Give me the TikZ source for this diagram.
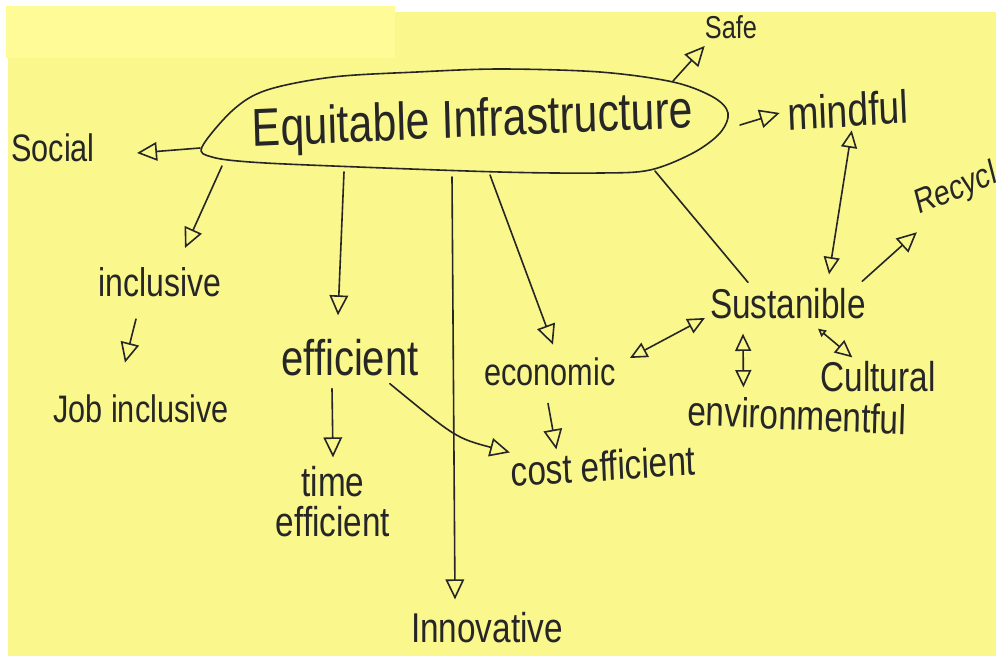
\documentclass[tikz,border=0pt]{standalone}
\usepackage{fontspec}
\setmainfont{Liberation Sans}
\usetikzlibrary{arrows.meta}
\definecolor{note}{RGB}{250,247,140}
\definecolor{notepatch}{RGB}{255,251,150}
\definecolor{ink}{RGB}{38,38,38}

\begin{document}
\begin{tikzpicture}[x=0.75pt,y=-0.75pt,
    lbl/.style={text=ink, inner sep=0pt, yscale=1.25, font=\fontsize{#1}{24}\selectfont},
    lbl/.default=25,
    con/.style={draw=ink, line width=1.2pt, line cap=round, line join=round},
    arr/.style={con, -{Triangle[open, length=15pt, width=14pt]}},
    biarr/.style={con, {Triangle[open, length=13pt, width=12pt]}-{Triangle[open, length=13pt, width=12pt]}}]
  \useasboundingbox (0,0) rectangle (996,658);
  \fill[white] (0,0) rectangle (996,658);
  \fill[note] (8,12) rectangle (996,656);
  \fill[notepatch] (6,6) rectangle (395,58);

  % the big idea
  \draw[con] plot[smooth cycle, tension=0.55] coordinates {(202,147) (233,110) (267,90) (333,77)
    (417,72) (500,69) (600,72) (673,82) (713,97) (728,113) (720,133) (693,153) (650,170)
    (600,173) (500,172) (333,166) (250,162) (212,157)};
  \node[lbl=32, anchor=base, rotate=2] (eq) at (473,137) {Equitable Infrastructure};
  \coordinate (eW) at (200,148);
  \coordinate (eSW) at (222,166);
  \coordinate (eS1) at (344,172);
  \coordinate (eS2) at (452,177);
  \coordinate (eS3) at (490,175);
  \coordinate (eSE) at (655,171);
  \coordinate (eNE) at (673,81);
  \coordinate (eE) at (740,125);

  % branches
  \node[lbl=23] (social) at (53,148) {Social};
  \node[lbl=19] (safe) at (731,27) {Safe};
  \node[lbl=28, rotate=3] (mindful) at (848,110) {mindful};
  \node[lbl=21, anchor=base west, rotate=18] (recycle) at (918,215) {Recycle};
  \node[lbl=24] (inclusive) at (160,282) {inclusive};
  \node[lbl=23] (jobinc) at (141,409) {Job inclusive};
  \node[lbl=30] (efficient) at (350,358) {efficient};
  \node[lbl, align=center] (timeeff) at (333,502) {time\\efficient};
  \node[lbl] (innovative) at (487,628) {Innovative};
  \node[lbl=23] (economic) at (550,372) {economic};
  \node[lbl, rotate=3] (costeff) at (603,466) {cost efficient};
  \node[lbl] (sust) at (788,304) {Sustanible};
  \node[lbl, rotate=-2] (env) at (797,415) {environmentful};
  \node[lbl] (cultural) at (878,377) {Cultural};

  \draw[arr] (eW) -- ([shift={(42,5)}]social.east);
  \draw[arr] (eSW) -- ([shift={(25,-19)}]inclusive.north);
  \draw[arr] ([shift={(-24,22)}]inclusive.south) -- ([shift={(-16,-32)}]jobinc.north);
  \draw[arr] (eS1) -- ([shift={(-12,-24)}]efficient.north);
  \draw[arr] ([shift={(-18,12)}]efficient.south) -- ([shift={(0,-9)}]timeeff.north);
  \draw[arr] ([shift={(-29,7)}]efficient.south east) .. controls (456,438) .. ([shift={(0,-4)}]costeff.north west);
  \draw[arr] (eS2) -- ([shift={(-32,-13)}]innovative.north);
  \draw[arr] (eS3) -- ([shift={(3,-13)}]economic.north);
  \draw[arr] ([shift={(-2,17)}]economic.south) -- ([shift={(-46,-1)}]costeff.north);
  \draw[con] (eSE) -- ([shift={(-40,-6)}]sust.north);
  \draw[arr] (eNE) -- ([shift={(0,7)}]safe.south west);
  \draw[arr] (eE) -- ([shift={(-8,-1)}]mindful.west);
  \draw[biarr] ([shift={(3,3)}]mindful.south) -- ([shift={(41,-14)}]sust.north);
  \draw[arr] ([shift={(-4,-7)}]sust.north east) -- ([shift={(-3,10)}]recycle.south west);
  \draw[biarr] ([shift={(14,-14)}]economic.east) -- ([shift={(-5,14)}]sust.west);
  \draw[biarr] ([shift={(-45,14)}]sust.south) -- ([shift={(-54,-12)}]env.north);
  \draw[con, {Triangle[open, length=6pt, width=6pt]}-{Triangle[open, length=13pt, width=12pt]}]
    ([shift={(30,9)}]sust.south) -- ([shift={(32,-4)}]cultural.north west);
\end{tikzpicture}
\end{document}
